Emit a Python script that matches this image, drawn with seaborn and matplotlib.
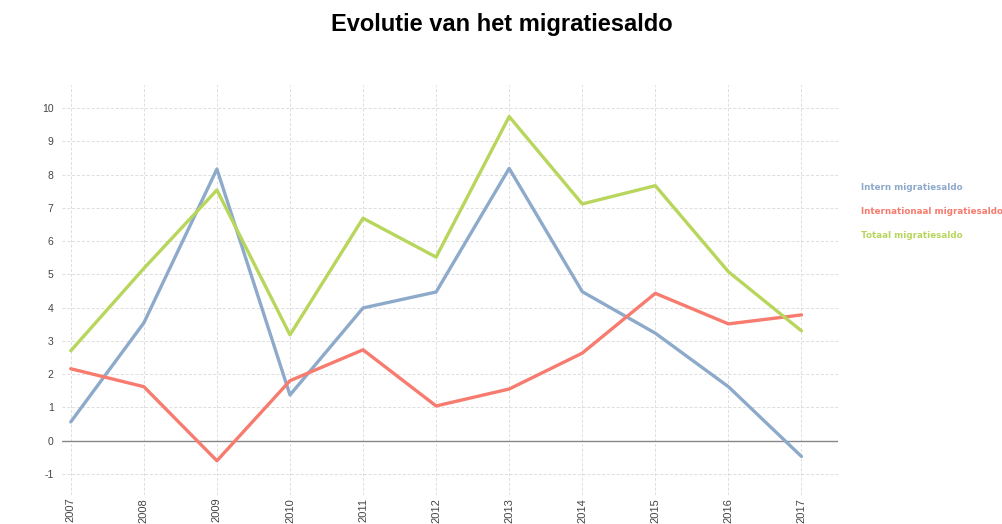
import matplotlib
matplotlib.use("Agg")
import matplotlib.pyplot as plt
import seaborn as sns
import pandas as pd

years = [2007, 2008, 2009, 2010, 2011, 2012, 2013, 2014, 2015, 2016, 2017]
intern = [0.56, 3.54, 8.17, 1.37, 3.99, 4.47, 8.19, 4.48, 3.23, 1.62, -0.48]
internationaal = [2.16, 1.62, -0.61, 1.80, 2.73, 1.04, 1.55, 2.63, 4.43, 3.51, 3.78]
totaal = [2.70, 5.18, 7.54, 3.18, 6.69, 5.52, 9.75, 7.12, 7.67, 5.08, 3.30]
series_names = ["Intern migratiesaldo", "Internationaal migratiesaldo", "Totaal migratiesaldo"]
colors = ["#8eaacb", "#f77b6e", "#b8d65c"]
yticks = list(range(-1, 11))

df = pd.DataFrame({
    "jaar": years * 3,
    "waarde": intern + internationaal + totaal,
    "reeks": [series_names[0]] * len(years) + [series_names[1]] * len(years) + [series_names[2]] * len(years),
})

sns.set_style("white")
plt.rcParams['font.family'] = ['Liberation Sans', 'DejaVu Sans']

fig = plt.figure(figsize=(10.03, 5.24), dpi=100)
ax = fig.add_axes([62 / 1003, 1 - 495 / 524, (838 - 62) / 1003, (495 - 85) / 524])

sns.lineplot(data=df, x="jaar", y="waarde", hue="reeks", palette=dict(zip(series_names, colors)),
             linewidth=2.4, ax=ax, legend=False, sort=False)

ax.set_xlim(2006.88, 2017.5)
ax.set_ylim(-1.64, 10.7)
ax.set_xticks(years)
ax.set_xticklabels([str(y) for y in years], rotation=90, fontsize=8, color="#444444")
ax.set_yticks(yticks)
ax.set_yticklabels([str(v) for v in yticks], fontsize=7.5, color="#444444")
ax.tick_params(axis="x", length=0, pad=2)
ax.tick_params(axis="y", length=0, pad=6)
ax.grid(True, color="#dddddd", linestyle=(0, (3, 2)), linewidth=0.7)
ax.set_axisbelow(True)
ax.axhline(0, color="#888888", linewidth=1, zorder=1)
for s in ax.spines.values():
    s.set_visible(False)
ax.set_xlabel("")
ax.set_ylabel("")

for i, (name, c) in enumerate(zip(series_names, colors)):
    fig.text(861 / 1003, 1 - (187 + i * 24) / 524, name, color=c, fontsize=6.3,
             fontweight="bold", va="center", ha="left", family="DejaVu Sans")

fig.text(0.5, 1 - 25 / 524, "Evolutie van het migratiesaldo", ha="center", va="center",
         fontsize=17, fontweight="bold", color="black")

fig.savefig("out.png", dpi=100)
